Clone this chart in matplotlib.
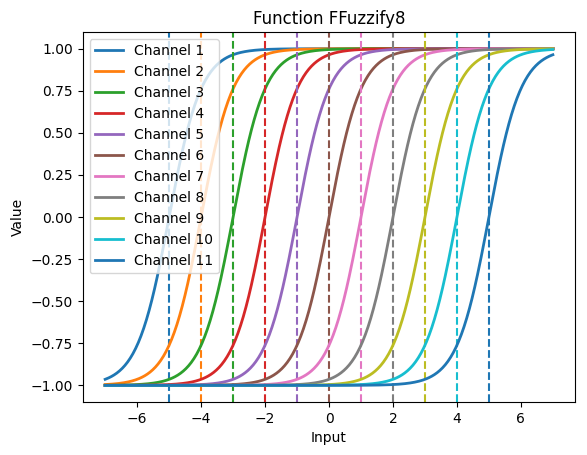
import numpy as np
import matplotlib
matplotlib.use("Agg")
import matplotlib.pyplot as plt

channels = [f"Channel {i}" for i in range(1, 12)]
centers = [-5, -4, -3, -2, -1, 0, 1, 2, 3, 4, 5]
slope = 1.0
x_min, x_max = -7, 7

colors = plt.rcParams['axes.prop_cycle'].by_key()['color']

fig = plt.figure(figsize=(5.87, 4.55), dpi=100)
ax = fig.add_axes([0.141, 0.116, 0.839, 0.814])
x = np.linspace(x_min, x_max, 500)
for i, (name, c) in enumerate(zip(channels, centers)):
    col = colors[i % len(colors)]
    ax.plot(x, np.tanh(slope * (x - c)), color=col, linewidth=2, label=name)
    ax.axvline(c, color=col, linestyle='--', linewidth=1.5)
ax.set_title("Function FFuzzify8")
ax.set_xlabel("Input")
ax.set_ylabel("Value")
ax.legend(loc='upper left')
fig.savefig("out.png", dpi=100)
